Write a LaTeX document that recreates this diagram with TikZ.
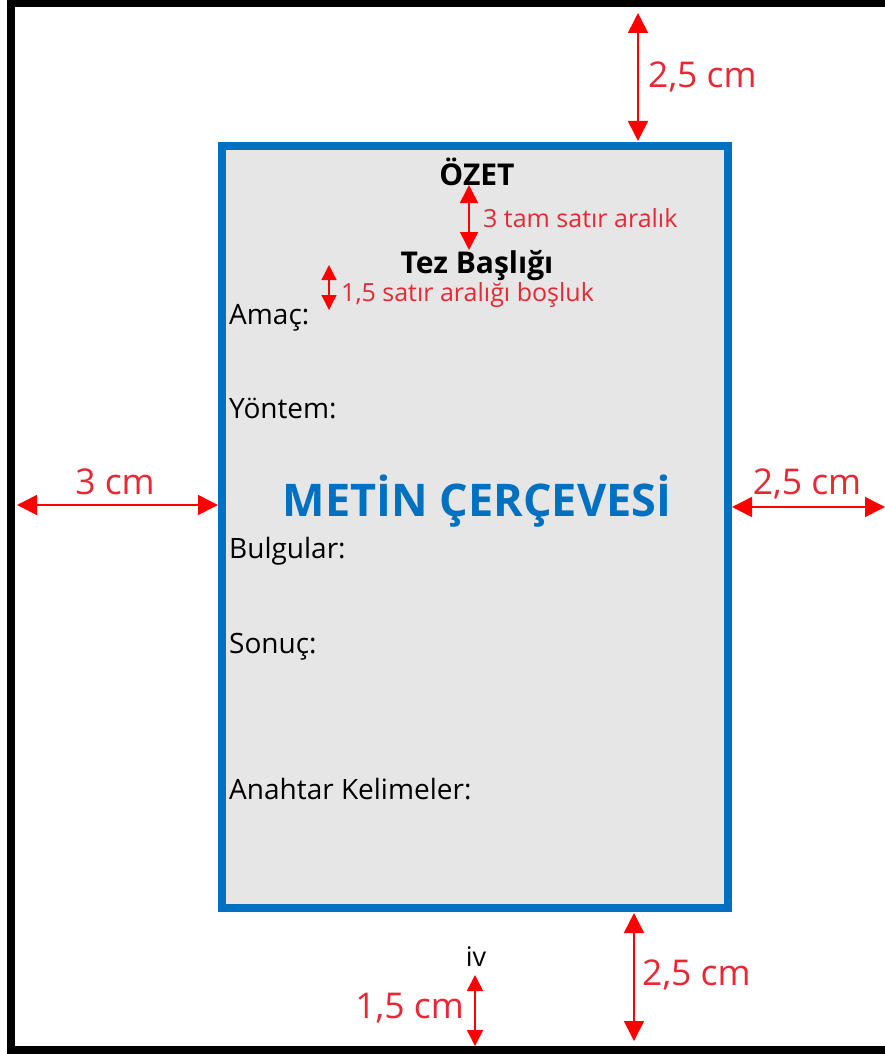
\documentclass[tikz,border=0pt]{standalone}
\usepackage{fontspec}
\setmainfont{Open Sans}
\usetikzlibrary{arrows.meta}
\definecolor{frameblue}{RGB}{0,112,192}
\definecolor{pagegray}{RGB}{230,230,230}
\definecolor{lblred}{RGB}{232,40,52}
\definecolor{arrred}{RGB}{255,0,0}
\tikzset{
  dim/.style={arrred, line width=1.6pt, {Triangle[width=20pt,length=20pt]}-{Triangle[width=20pt,length=20pt]}},
  smalldim/.style={arrred, line width=1.4pt, {Triangle[width=15pt,length=15pt]}-{Triangle[width=15pt,length=15pt]}},
  biglbl/.style={text=lblred, font=\fontsize{35.5}{38}\selectfont, inner sep=0pt},
  smalllbl/.style={text=lblred, font=\fontsize{25}{28}\selectfont, inner sep=0pt},
  body/.style={text=black, font=\fontsize{28}{30}\selectfont, inner sep=0pt, anchor=west},
  head/.style={text=black, font=\bfseries\fontsize{30}{32}\selectfont, inner sep=0pt},
}
\begin{document}
\begin{tikzpicture}[x=1pt,y=-1pt]
\useasboundingbox (0,0) rectangle (885,1054);
\fill[white] (0,0) rectangle (885,1054);
% outer page frame
\draw[black, line width=8pt] (900,3.5) -- (11,3.5) -- (11,1050) -- (900,1050);
% text frame
\draw[frameblue, fill=pagegray, line width=8pt] (222,146) rectangle (728,908);
\coordinate (fL) at (218,505);
\coordinate (fR) at (732,507);
\coordinate (fT) at (638,141);
\coordinate (fB) at (634,913);
% headings
\node[head] (ozet) at (477,172) {ÖZET};
\node[head] (baslik) at (477,266) {Tez Başlığı};
\draw[dim, {Triangle[width=18pt,length=18pt]}-{Triangle[width=18pt,length=18pt]}] (469,185) -- (469,250);
\node[smalllbl, anchor=west] (l3) at (483,218) {3 tam satır aralık};
\draw[smalldim] (329,265) -- (329,310);
\node[smalllbl, anchor=west] (l15) at (341,295) {1,5 satır aralığı boşluk};
% body
\node[body] (amac) at (229,318) {Amaç:};
\node[body] (yontem) at (229,409) {Yöntem:};
\node[text=frameblue, font=\bfseries\fontsize{45}{48}\selectfont, inner sep=0pt] (metin) at (477,501) {METİN ÇERÇEVESİ};
\node[body] (bulgu) at (229,551) {Bulgular:};
\node[body] (sonuc) at (229,647) {Sonuç:};
\node[body] (anahtar) at (229,789) {Anahtar Kelimeler:};
% margins
\coordinate (topEnd) at (638,13);
\draw[dim] (topEnd) -- (fT);
\node[biglbl, anchor=west] (ltop) at (648,77) {2,5 cm};
\coordinate (leftEnd) at (17,505);
\draw[dim] (leftEnd) -- (fL);
\node[biglbl] (lleft) at (115,482) {3 cm};
\coordinate (rightEnd) at (885,507);
\draw[dim] (fR) -- (rightEnd);
\node[biglbl] (lright) at (807,484) {2,5 cm};
\coordinate (botEnd) at (634,1041);
\draw[dim] (fB) -- (botEnd);
\node[biglbl, anchor=west] (lbot) at (642,975) {2,5 cm};
% page number
\node[text=black, font=\fontsize{27}{29}\selectfont, inner sep=0pt] (iv) at (476,957) {iv};
\coordinate (pnTop) at (475,975);
\coordinate (pnBot) at (475,1046);
\draw[dim, {Triangle[width=16pt,length=16pt]}-{Triangle[width=16pt,length=16pt]}] (pnTop) -- (pnBot);
\node[biglbl, anchor=east] (l15cm) at (464,1008) {1,5 cm};
\end{tikzpicture}
\end{document}
